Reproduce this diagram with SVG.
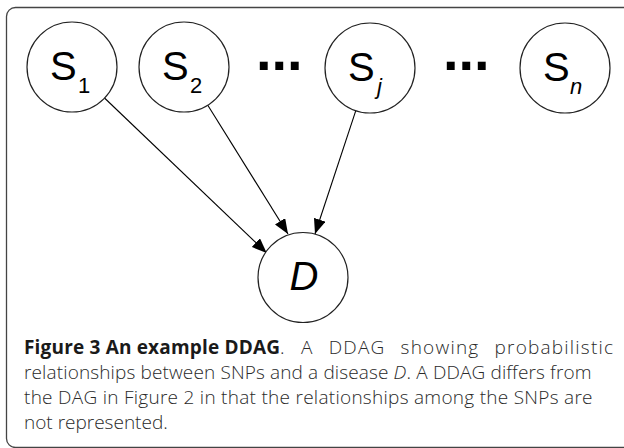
<svg xmlns="http://www.w3.org/2000/svg" width="624" height="448" viewBox="0 0 624 448">
  <defs>
    <style>
      .node circle { fill: #ffffff; stroke: #222222; stroke-width: 1.2; }
      .lbl { font-family: "Liberation Sans", Arial, sans-serif; font-size: 40px; fill: #000000; }
      .it { font-style: italic; }
      .sub { font-family: "Liberation Sans", Arial, sans-serif; font-size: 22px; fill: #000000; }
      .dots { font-family: "Liberation Sans", Arial, sans-serif; font-weight: bold; font-size: 56px; fill: #000000; }
      .edge { stroke: #000000; stroke-width: 1.1; fill: none; marker-end: url(#arrow); }
      .cap { font-family: "Open Sans", "Noto Sans", sans-serif; font-size: 19px; font-weight: 300; fill: #2a2a2a; }
      .capb { font-family: "Open Sans", "Noto Sans", sans-serif; font-size: 19px; font-weight: bold; fill: #1a1a1a; }
    </style>
    <marker id="arrow" markerUnits="userSpaceOnUse" viewBox="0 0 15 12" refX="15" refY="6" markerWidth="15" markerHeight="12" orient="auto">
      <path d="M0,0 L15,6 L0,12 z" fill="#000000"/>
    </marker>
  </defs>
  <rect x="6.5" y="7.5" width="626" height="440" rx="9" ry="9" fill="none" stroke="#444444" stroke-width="1.3"/>

  <g id="connectors">
    <line class="edge" x1="104.5" y1="98" x2="266.7" y2="253"/>
    <line class="edge" x1="207.8" y1="105.2" x2="288" y2="234"/>
    <line class="edge" x1="355.8" y1="110.7" x2="315" y2="234"/>
  </g>

  <g id="S1" class="node">
    <circle cx="72" cy="67" r="45"/>
    <text class="lbl" x="50" y="80">S</text><text class="sub" x="78" y="93">1</text>
  </g>
  <g id="S2" class="node">
    <circle cx="184" cy="67" r="45"/>
    <text class="lbl" x="162" y="80">S</text><text class="sub" x="190" y="93">2</text>
  </g>
  <g id="dots1">
    <text class="dots" x="256" y="70">...</text>
  </g>
  <g id="Sj" class="node">
    <circle cx="370" cy="68" r="45"/>
    <text class="lbl" x="348" y="81">S</text><text class="sub it" x="377" y="94">j</text>
  </g>
  <g id="dots2">
    <text class="dots" x="443" y="70">...</text>
  </g>
  <g id="Sn" class="node">
    <circle cx="565" cy="68" r="45"/>
    <text class="lbl" x="543" y="81">S</text><text class="sub it" x="570" y="94">n</text>
  </g>
  <g id="D" class="node">
    <circle cx="303" cy="277.5" r="45"/>
    <text class="lbl it" x="304" y="290" text-anchor="middle">D</text>
  </g>

  <g id="caption">
    <text class="capb" x="24" y="354" textLength="256" lengthAdjust="spacing">Figure 3 An example DDAG</text>
    <text class="cap" x="280" y="354" word-spacing="9" textLength="333" lengthAdjust="spacing">. A DDAG showing probabilistic</text>
    <text class="cap" x="24" y="379" textLength="567.5" lengthAdjust="spacing">relationships between SNPs and a disease <tspan font-style="italic">D</tspan>. A DDAG differs from</text>
    <text class="cap" x="24" y="404" textLength="568.5" lengthAdjust="spacing">the DAG in Figure 2 in that the relationships among the SNPs are</text>
    <text class="cap" x="24" y="429">not represented.</text>
  </g>
</svg>
